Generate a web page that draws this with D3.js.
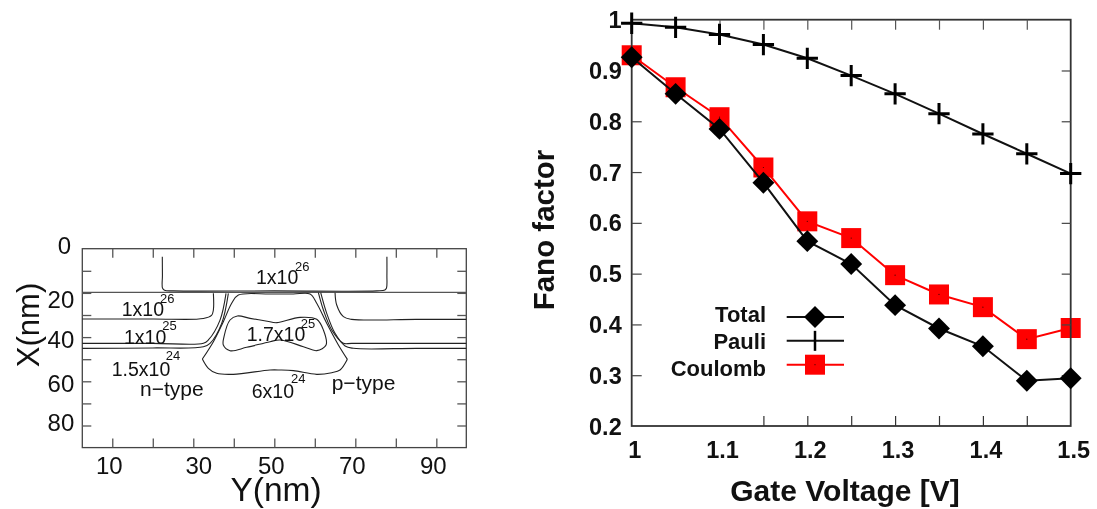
<!DOCTYPE html>
<meta charset="utf-8">
<script src="https://d3js.org/d3.v7.min.js"></script>
<style type="text/css">
html, body { margin: 0; padding: 0; background: #fff; }
svg { display: block; filter: blur(0.35px); }
text { font-family: "Liberation Sans", Arial, sans-serif; fill: #111; }
.fano text { font-weight: bold; }
.axis path { display: none; }
</style>
<body></body>
<script>

// Fano factor panel
var gateVoltage = [1, 1.05, 1.1, 1.15, 1.2, 1.25, 1.3, 1.35, 1.4, 1.45, 1.5];
var total   = [0.926, 0.854, 0.785, 0.679, 0.564, 0.519, 0.438, 0.392, 0.357, 0.289, 0.294];
var pauli   = [0.993, 0.985, 0.971, 0.951, 0.924, 0.890, 0.854, 0.815, 0.775, 0.736, 0.697];
var coulomb = [0.930, 0.867, 0.808, 0.709, 0.603, 0.570, 0.497, 0.459, 0.434, 0.371, 0.393];
var fanoTicks = [0.2, 0.3, 0.4, 0.5, 0.6, 0.7, 0.8, 0.9, 1];
var legendNames = ["Total", "Pauli", "Coulomb"];

// Contour panel, each point is [Y nm, X nm]
var yTicks = [10, 20, 30, 40, 50, 60, 70, 80, 90];
var xTicks = [0, 10, 20, 30, 40, 50, 60, 70, 80];
var gateEdge = [[2.6, 19.75], [97.4, 19.75]];
var contourGate = [[22.35, 3.6], [22.38, 12], [22.4, 17.8], [22.9, 18.8], [25.1, 19.1], [50, 19.1], [75.3, 19.1], [77.3, 18.7], [77.7, 17.8], [77.8, 12], [77.8, 3.6]];
var contourN26 = [[2.6, 31.8], [20, 31.8], [32.5, 31.6], [34.5, 30.2], [34.96, 27.74], [34.96, 20.2]];
var contourN25 = [[2.6, 42.82], [20, 42.82], [32.5, 42.82], [33.72, 41.3], [36.6, 32.3], [38.08, 20.2]];
var contourN24 = [[2.6, 45.08], [20, 44.9], [32.5, 44.4], [34.13, 42.82], [37.01, 33.77], [38.66, 20.2]];
var contourP26 = [[65, 19.9], [65.41, 25.48], [67.06, 30.75], [69.11, 31.96], [85, 31.96], [97.4, 31.96]];
var contourP25 = [[60.88, 19.9], [62.12, 27.74], [64.18, 36.79], [67.06, 42.82], [69.11, 42.82], [85, 42.82], [97.4, 42.82]];
var contourP24 = [[61.46, 19.9], [62.94, 29.25], [65, 38.3], [67.47, 44.03], [69.53, 45.08], [85, 45.08], [97.4, 45.08]];
var channelTop = [[32.24, 49.91], [34.96, 42.07], [37.42, 33.02], [39.48, 24.72], [41.13, 20.95], [48.95, 20.5],
  [54.71, 20.5], [58.83, 20.5], [60.47, 24.72], [62.94, 33.77], [65.82, 43.58], [68.04, 50.06]];
var channelBottom = [[32.24, 49.91], [33.72, 54.13], [35.78, 56.4], [39.89, 56.85], [48.95, 54.89], [51.42, 54.89],
  [54.71, 55.19], [60.47, 56.85], [64.18, 56.1], [66.23, 54.89], [68.04, 50.06]];
var contourCore = [[48.95, 33.02], [44.01, 31.51], [40.88, 30.45], [39.07, 32.26], [37.59, 39.8], [37.42, 43.58],
  [39.07, 46.14], [43.19, 44.63], [48.95, 42.07], [51.42, 41.3], [57.18, 44.33], [60.47, 46.14], [62.78, 43.58],
  [62.12, 36.79], [60.47, 31.96], [56.36, 31.06], [50.6, 33.47], [48.95, 33.02]];

var svg = d3.select("body").append("svg")
    .attr("width", 1097)
    .attr("height", 509);

//---------- left panel ----------
var left = svg.append("g").attr("class", "contour");

var xScaleL = d3.scaleLinear().domain([2.6, 97.4]).range([82.3, 466.3]);
var yScaleL = d3.scaleLinear().domain([0, 90]).range([248.7, 447.6]);

function tickStyle(g, color, width) {
  g.selectAll("line").attr("stroke", color).attr("stroke-width", width);
}

left.append("rect")
    .attr("x", 82.3).attr("y", 248.7)
    .attr("width", 384).attr("height", 198.9)
    .attr("fill", "none").attr("stroke", "#444").attr("stroke-width", 1.3);

// the labels in the original sit a little off their ticks
left.append("g").attr("class", "axis")
    .attr("transform", "translate(0,447.6)")
    .call(d3.axisBottom(xScaleL).tickValues(yTicks).tickSize(-9).tickPadding(9)
      .tickFormat(d => d % 20 == 10 ? d : ""))
    .call(tickStyle, "#555", 1.3)
    .selectAll("text").attr("font-size", 24).attr("dx", d => d == 30 ? 5 : -3.5);
left.append("g").attr("class", "axis")
    .attr("transform", "translate(0,248.7)")
    .call(d3.axisTop(xScaleL).tickValues(yTicks).tickSize(-9).tickFormat(""))
    .call(tickStyle, "#555", 1.3);
left.append("g").attr("class", "axis")
    .attr("transform", "translate(82.3,0)")
    .call(d3.axisLeft(yScaleL).tickValues(xTicks.slice(1)).tickSize(-9).tickPadding(8)
      .tickFormat(d => d % 20 == 0 ? d : ""))
    .call(tickStyle, "#555", 1.3)
    .selectAll("text").attr("font-size", 24)
      .attr("dy", d => d == 20 ? "0.6em" : d == 80 ? "0.22em" : "0.42em");
left.append("g").attr("class", "axis")
    .attr("transform", "translate(466.3,0)")
    .call(d3.axisRight(yScaleL).tickValues(xTicks.slice(1)).tickSize(-9).tickFormat(""))
    .call(tickStyle, "#555", 1.3);

left.append("text")
    .attr("x", 71).attr("y", 254)
    .attr("text-anchor", "end").attr("font-size", 24)
    .text("0");

var contourLine = d3.line()
    .x(d => xScaleL(d[0]))
    .y(d => yScaleL(d[1]))
    .curve(d3.curveCatmullRom.alpha(0.5));

left.append("path")
    .attr("d", contourLine(gateEdge))
    .attr("fill", "none").attr("stroke", "#555").attr("stroke-width", 1.4);

left.selectAll(".contourLine")
    .data([contourGate, contourN26, contourN25, contourN24, contourP26, contourP25, contourP24, channelTop, channelBottom, contourCore])
    .enter().append("path")
    .attr("class", "contourLine")
    .attr("d", contourLine)
    .attr("fill", "none")
    .attr("stroke", "#222")
    .attr("stroke-width", 1.1);

function density(x, y, base, supX, supY, sup) {
  left.append("text").attr("x", x).attr("y", y).attr("font-size", 19.5).text(base);
  left.append("text").attr("x", supX).attr("y", supY).attr("font-size", 13).text(sup);
}
density(256, 284, "1x10", 295, 271, "26");
density(121.7, 316, "1x10", 160, 303, "26");
density(124, 343.5, "1x10", 162.3, 330, "25");
density(111.7, 375.7, "1.5x10", 165.7, 360, "24");
density(246.7, 340.7, "1.7x10", 300.7, 328.3, "25");
density(251.7, 398.3, "6x10", 291, 383.3, "24");

left.append("text").attr("x", 140).attr("y", 396).attr("font-size", 21).text("n\u2212type");
left.append("text").attr("x", 331.7).attr("y", 390).attr("font-size", 21).text("p\u2212type");

left.append("text")
    .attr("x", 276).attr("y", 501)
    .attr("text-anchor", "middle").attr("font-size", 33.5)
    .text("Y(nm)");
left.append("text")
    .attr("transform", "translate(39,325) rotate(-90)")
    .attr("text-anchor", "middle").attr("font-size", 31)
    .text("X(nm)");

//---------- right panel ----------
var right = svg.append("g").attr("class", "fano");

var xScale = d3.scaleLinear().domain([1, 1.5]).range([631.7, 1070.7]);
var yScale = d3.scaleLinear().domain([0.2, 1]).range([426, 19.7]);

var series = [
  {name: legendNames[2], values: coulomb, color: "#f00"},
  {name: legendNames[1], values: pauli, color: "#111"},
  {name: legendNames[0], values: total, color: "#111"}
];

var line = d3.line()
    .x((d, i) => xScale(gateVoltage[i]))
    .y(d => yScale(d));

var squareSym = d3.symbol().type(d3.symbolSquare).size(400);
var diamondSym = d3.symbol().type(d3.symbolSquare).size(240);
var plusSym = d3.symbol().type(d3.symbolPlus).size(150);

function drawCoulomb(g, pts) {
  g.selectAll(".square").data(pts).enter().append("path")
      .attr("class", "square")
      .attr("transform", d => `translate(${d[0]},${d[1]})`)
      .attr("d", squareSym)
      .attr("fill", "#f00");
  g.selectAll(".dot").data(pts).enter().append("circle")
      .attr("class", "dot")
      .attr("cx", d => d[0]).attr("cy", d => d[1])
      .attr("r", 0.6).attr("fill", "#400");
}
function drawTotal(g, pts) {
  g.selectAll(".diamond").data(pts).enter().append("path")
      .attr("class", "diamond")
      .attr("transform", d => `translate(${d[0]},${d[1]}) rotate(45)`)
      .attr("d", diamondSym)
      .attr("fill", "#000");
}
function drawPauli(g, pts) {
  g.selectAll(".plus").data(pts).enter().append("path")
      .attr("class", "plus")
      .attr("transform", d => `translate(${d[0]},${d[1]})`)
      .attr("d", plusSym)
      .attr("fill", "none").attr("stroke", "#000").attr("stroke-width", 3);
}
function points(values) {
  return values.map((v, i) => [xScale(gateVoltage[i]), yScale(v)]);
}

// red goes under the axes, black on top of them
right.append("path")
    .attr("d", line(coulomb))
    .attr("fill", "none").attr("stroke", "#f00").attr("stroke-width", 2);
drawCoulomb(right.append("g"), points(coulomb));

right.append("rect")
    .attr("x", 631.7).attr("y", 19.7)
    .attr("width", 439).attr("height", 406.3)
    .attr("fill", "none").attr("stroke", "#333").attr("stroke-width", 1.8);

right.append("g").attr("class", "axis")
    .attr("transform", "translate(0,426)")
    .call(d3.axisBottom(xScale).tickValues(gateVoltage).tickSize(0).tickPadding(15)
      .tickFormat(d => Math.round(d * 100) % 10 == 0 ? d3.format("~g")(d) : ""))
    .selectAll("text").attr("font-size", 23.5).attr("dx", 2.5);
right.append("g").attr("class", "axis")
    .attr("transform", "translate(0,426)")
    .call(d3.axisBottom(xScale).tickValues(gateVoltage.filter(d => d > 1.1 && d < 1.5)).tickSize(-10).tickFormat(""))
    .call(tickStyle, "#333", 1.2);
right.append("g").attr("class", "axis")
    .attr("transform", "translate(0,19.7)")
    .call(d3.axisTop(xScale).tickValues(gateVoltage.slice(1, 10)).tickSize(-10).tickFormat(""))
    .call(tickStyle, "#555", 1.2);
right.append("g").attr("class", "axis")
    .attr("transform", "translate(631.7,0)")
    .call(d3.axisLeft(yScale).tickValues(fanoTicks).tickSize(0).tickPadding(10)
      .tickFormat(d3.format("~g")))
    .selectAll("text").attr("font-size", 23.5).attr("dy", "0.34em");
right.append("g").attr("class", "axis")
    .attr("transform", "translate(631.7,0)")
    .call(d3.axisLeft(yScale).tickValues(fanoTicks.filter(d => d > 0.2 && d != 0.9 && d < 1)).tickSize(-10).tickFormat(""))
    .call(tickStyle, "#444", 1.2);
right.append("g").attr("class", "axis")
    .attr("transform", "translate(1070.7,0)")
    .call(d3.axisRight(yScale).tickValues(fanoTicks.filter(d => d > 0.2 && d < 1)).tickSize(-9).tickFormat(""))
    .call(tickStyle, "#444", 1.2);

right.append("path")
    .attr("d", line(pauli))
    .attr("fill", "none").attr("stroke", "#111").attr("stroke-width", 2);
drawPauli(right.append("g"), points(pauli));

right.append("path")
    .attr("d", line(total))
    .attr("fill", "none").attr("stroke", "#111").attr("stroke-width", 2);
drawTotal(right.append("g"), points(total));

right.append("text")
    .attr("x", 845).attr("y", 501)
    .attr("text-anchor", "middle").attr("font-size", 30)
    .text("Gate Voltage [V]");
right.append("text")
    .attr("transform", "translate(554,230) rotate(-90)")
    .attr("text-anchor", "middle").attr("font-size", 29.5)
    .text("Fano factor");

// legend, the names are spaced wider than the samples
var legendY = d3.scalePoint().domain(legendNames).range([317, 364.7]);
var legendTextY = d3.scalePoint().domain(legendNames).range([322, 375.7]);
var legend = right.selectAll(".legendRow")
    .data(series)
    .enter().append("g")
    .attr("class", "legendRow");

legend.append("text")
    .attr("x", 766).attr("y", d => legendTextY(d.name))
    .attr("text-anchor", "end").attr("font-size", 22)
    .text(d => d.name);
legend.append("line")
    .attr("x1", 786.7).attr("x2", 844)
    .attr("y1", d => legendY(d.name)).attr("y2", d => legendY(d.name))
    .attr("stroke", d => d.color).attr("stroke-width", 2);

drawCoulomb(right.append("g"), [[815, legendY("Coulomb")]]);
drawTotal(right.append("g"), [[815, legendY("Total")]]);
right.append("line")
    .attr("x1", 815).attr("x2", 815)
    .attr("y1", legendY("Pauli") - 10).attr("y2", legendY("Pauli") + 10)
    .attr("stroke", "#000").attr("stroke-width", 2.5);

</script>
